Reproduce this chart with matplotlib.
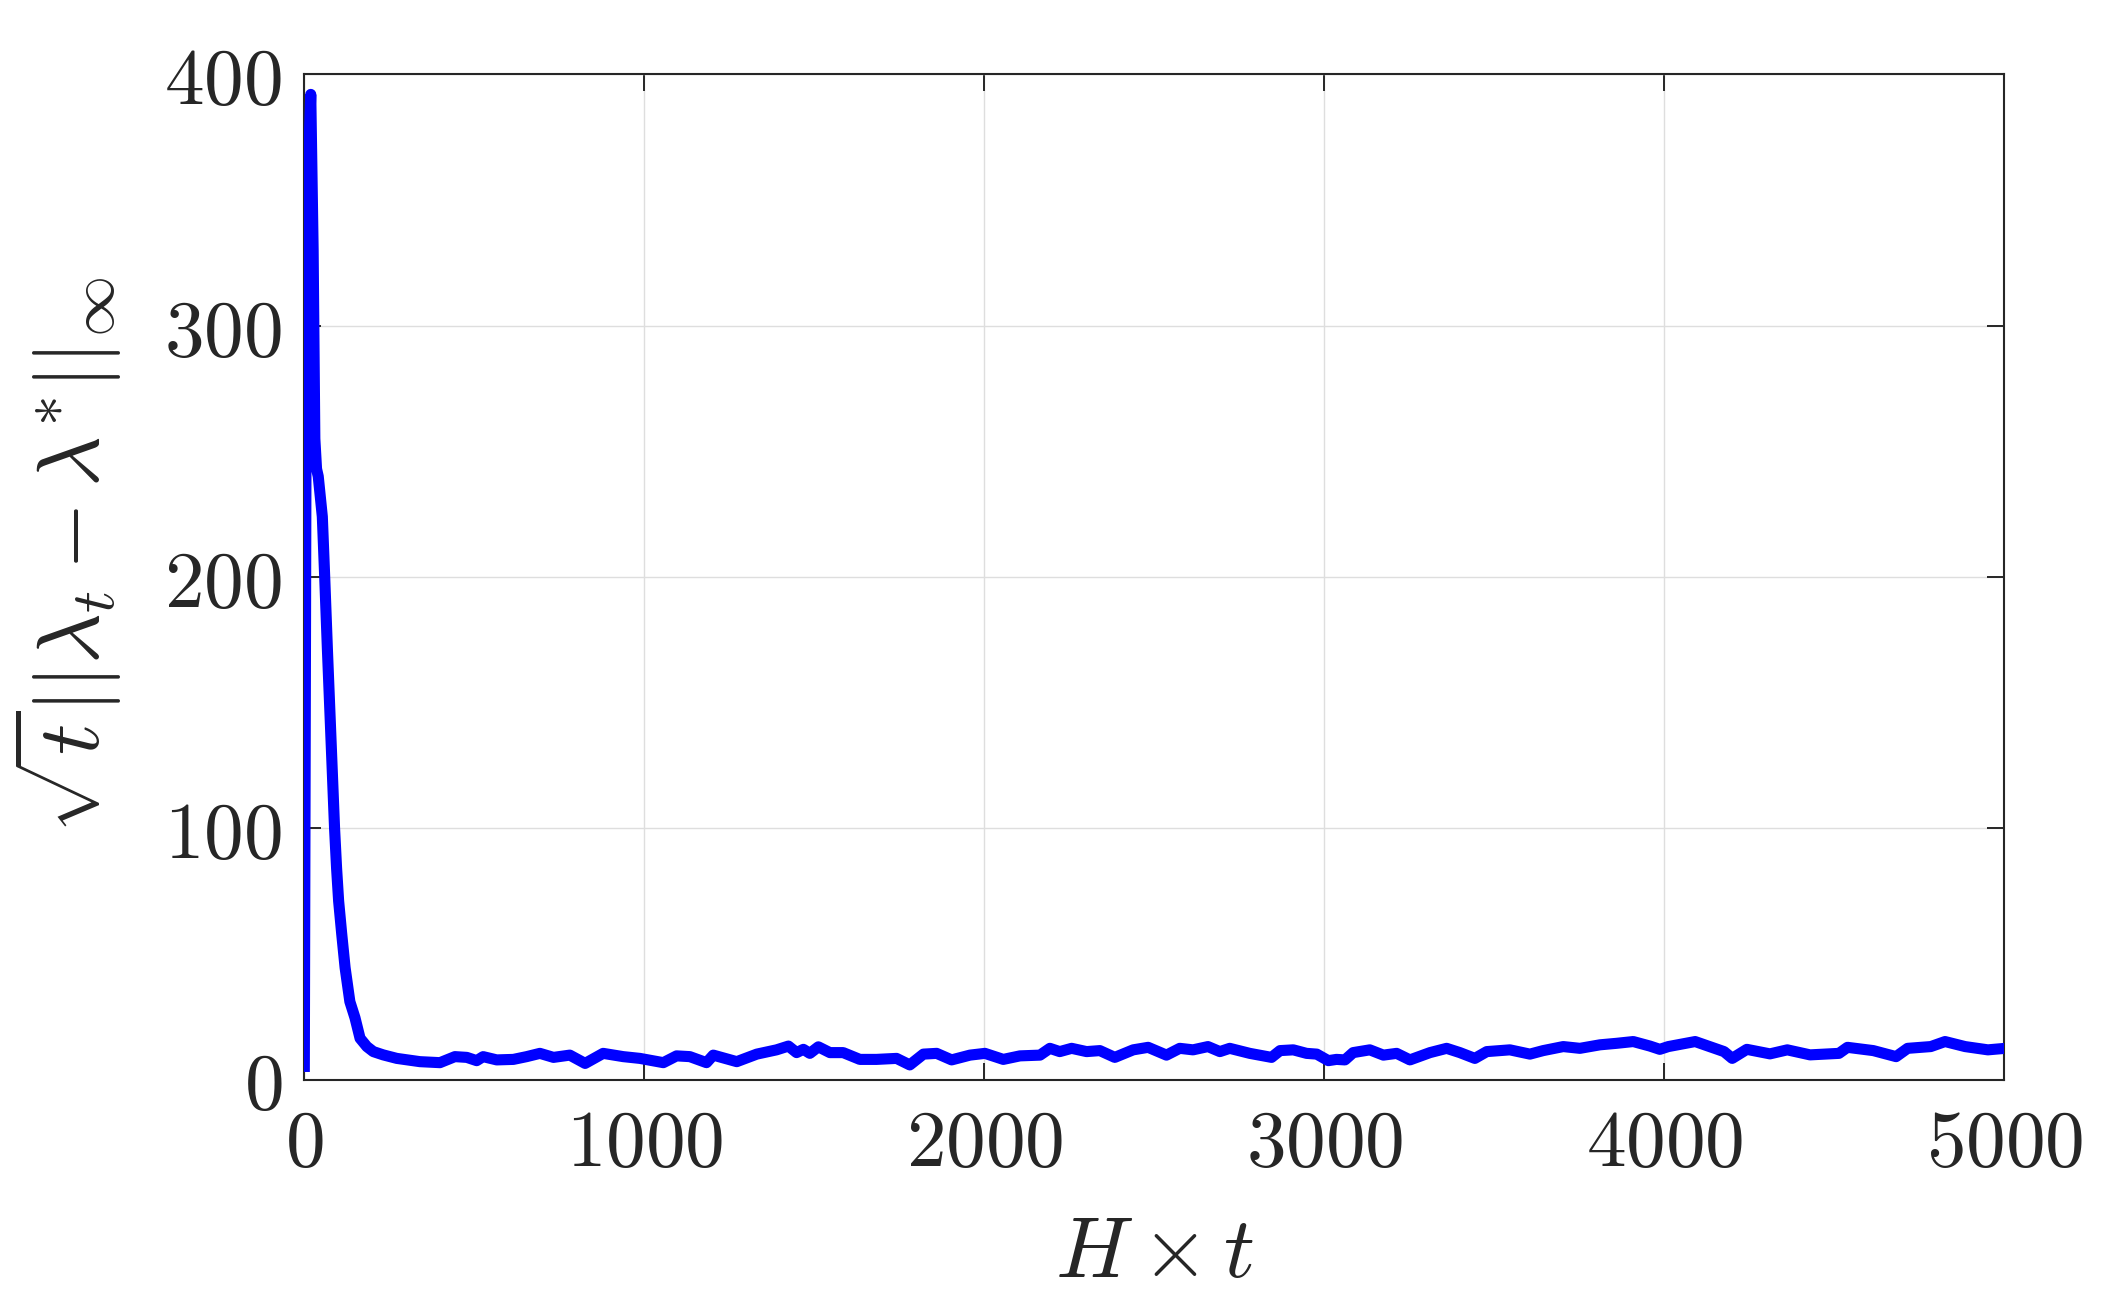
import matplotlib
matplotlib.use("Agg")
import matplotlib.pyplot as plt
import numpy as np

# values (x = H*t, y = sqrt(t)*||lambda_t - lambda*||_inf)
early_x = [0, 5, 11, 19, 26, 31, 36, 41, 53, 60, 68, 76, 84, 89, 95, 101,
           110, 120, 134, 149, 164, 184, 203, 232, 272]
early_y = [3, 250, 360, 392, 330, 255, 243, 240, 224, 200, 171, 144, 117, 100, 84, 71,
           58, 44.5, 31, 24.6, 16.4, 13.1, 11.1, 9.8, 8.4]

tail_x = [340, 399, 443, 478, 507, 526, 566, 615, 654, 693, 733, 781, 826, 879,
          938, 987, 1056, 1095, 1134, 1183, 1203, 1272, 1331, 1389, 1424, 1448,
          1468, 1487, 1512, 1546, 1585, 1634, 1683, 1742, 1781, 1821, 1860, 1904,
          1958, 2002, 2056, 2105, 2164, 2193, 2222, 2257, 2301, 2340, 2384, 2438,
          2482, 2536, 2575, 2614, 2658, 2693, 2722, 2781, 2845, 2870, 2909, 2948,
          2978, 3012, 3036, 3061, 3085, 3134, 3174, 3213, 3252, 3311, 3360, 3399,
          3443, 3478, 3546, 3605, 3644, 3703, 3752, 3811, 3860, 3909, 3958, 3987,
          4012, 4091, 4134, 4176, 4200, 4243, 4311, 4362, 4429, 4514, 4539, 4615,
          4682, 4716, 4784, 4826, 4885, 4952, 5003]
tail_y = [7.1, 6.7, 9.1, 8.8, 7.5, 9.1, 7.8, 8.0, 9.1, 10.4, 8.8, 9.7, 6.4, 10.4,
          9.1, 8.4, 6.7, 9.4, 9.1, 6.7, 9.7, 7.1, 10.1, 11.8, 13.3, 10.7,
          12.0, 10.4, 13.0, 10.7, 10.7, 8.0, 8.0, 8.4, 5.8, 10.1, 10.4, 7.8,
          9.7, 10.4, 8.0, 9.4, 9.7, 12.4, 11.1, 12.4, 11.1, 11.5, 8.8, 11.8,
          12.8, 9.7, 12.4, 11.8, 13.1, 11.1, 12.4, 10.4, 8.8, 11.5, 11.8, 10.4,
          10.1, 7.5, 8.0, 7.8, 10.7, 11.8, 9.7, 10.4, 7.8, 10.7, 12.4, 10.7,
          8.4, 11.1, 11.8, 10.1, 11.5, 13.1, 12.4, 13.8, 14.4, 15.1, 13.3, 12.0,
          13.1, 15.1, 13.1, 11.1, 8.4, 12.0, 10.2, 11.8, 9.8, 10.4, 12.8, 11.5,
          9.1, 12.4, 13.1, 15.1, 13.1, 11.8, 12.4]

xticks = [0, 1000, 2000, 3000, 4000, 5000]
yticks = [0, 100, 200, 300, 400]

plt.rcParams['mathtext.fontset'] = 'cm'
plt.rcParams['font.family'] = 'serif'

W, H, DPI = 2106, 1302, 100
fig = plt.figure(figsize=(W / DPI, H / DPI), dpi=DPI)
ax_h = (1079.5 - 74.3) / H
ax = fig.add_axes([304.3 / W, 1 - 1079.5 / H, (2004.2 - 304.3) / W, ax_h])

x = early_x + tail_x
y = early_y + tail_y
ax.plot(x, y, color=(0, 0, 1), lw=8, solid_joinstyle='round',
        solid_capstyle='butt', zorder=3)

ax.set_xlim(0, 5000)
ax.set_ylim(0, 400)
ax.set_xticks(xticks)
ax.set_yticks(yticks)
ax.set_xticklabels([f'${v}$' for v in xticks])
ax.set_yticklabels([f'${v}$' for v in yticks])

ax.grid(True, color='#dedede', lw=1.0, zorder=0)
for s in ax.spines.values():
    s.set_color('#262626')
    s.set_linewidth(1.5)
ax.tick_params(direction='in', length=12, width=1.4, color='#262626',
               labelcolor='#262626', labelsize=57, top=True, right=True)
ax.tick_params(axis='y', pad=16)
ax.tick_params(axis='x', pad=19)

ax.set_xlabel(r'$H \times t$', fontsize=62, color='#262626', labelpad=22)
ax.set_ylabel(r'$\sqrt{t}||\lambda_t-\lambda^{*}||_{\infty}$', fontsize=63,
              color='#262626')
ax.yaxis.set_label_coords(-0.106, 0.5 + 22 / 1005)

fig.savefig('out.png', dpi=DPI)
